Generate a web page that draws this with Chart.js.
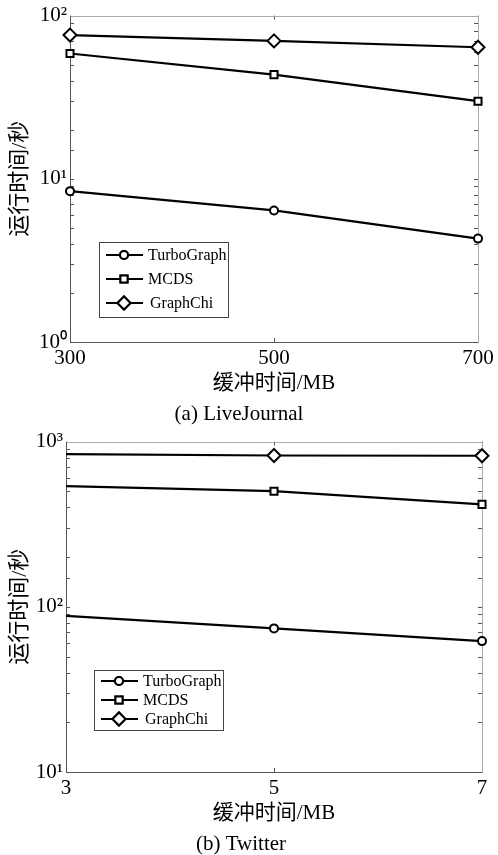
<!DOCTYPE html>
<html><head><meta charset="utf-8">
<script src="https://cdn.jsdelivr.net/npm/chart.js@4/dist/chart.umd.min.js"></script>
<style>
html,body{margin:0;padding:0;background:#fff;width:498px;height:855px;overflow:hidden;}
.wrap{position:absolute;left:0;width:498px;}
</style></head><body>
<div class="wrap" style="top:0;height:425px"><canvas id="c1" width="498" height="425"></canvas></div>
<div class="wrap" style="top:426px;height:429px"><canvas id="c2" width="498" height="429"></canvas></div>
<script>
// ---- data ----
const seriesNames = ['TurboGraph', 'MCDS', 'GraphChi'];
const lj_x = [300, 500, 700];
const lj_turbo = [8.4, 6.4, 4.3];
const lj_mcds = [58.6, 43.5, 29.9];
const lj_graphchi = [76, 70, 64];
const tw_x = [3, 5, 7];
const tw_turbo = [88, 74, 62];
const tw_mcds = [537, 501, 417];
const tw_graphchi = [839, 824, 821];
const lj_xTicks = [300, 500, 700];
const tw_xTicks = [3, 5, 7];
const lj_yTickValues = [1, 10, 100];
const lj_yTickLabels = ['10\u2070', '10\u00B9', '10\u00B2'];
const tw_yTickValues = [10, 100, 1000];
const tw_yTickLabels = ['10\u00B9', '10\u00B2', '10\u00B3'];
const xTitle = '缓冲时间/MB';
const yTitle = '运行时间/秒';
const lj_caption = '(a) LiveJournal';
const tw_caption = '(b) Twitter';

const FONT = '"Liberation Serif", "Times New Roman", "Noto Sans CJK SC", serif';
const styles = [
  {pointStyle: 'circle', radius: 4},
  {pointStyle: 'rect', radius: 5},
  {pointStyle: 'rectRot', radius: 6.5}
];

function makeDatasets(xs, ys, hideFirst) {
  return ys.map((vals, i) => ({
    label: seriesNames[i],
    data: xs.map((x, j) => ({x: x, y: vals[j]})),
    borderColor: '#000',
    borderWidth: 2.2,
    pointStyle: styles[i].pointStyle,
    pointRadius: xs.map((x, j) => (hideFirst && j === 0) ? 0 : styles[i].radius),
    pointBorderWidth: 2,
    pointBorderColor: '#000',
    pointBackgroundColor: '#fff',
    legendRadius: styles[i].radius,
    fill: false,
    clip: false,
    tension: 0
  }));
}

const frameTicks = {
  id: 'frameTicks',
  beforeDatasetsDraw(chart) {
    const {ctx, chartArea: a, scales} = chart;
    ctx.save();
    ctx.lineWidth = 1;
    ctx.strokeStyle = '#555';
    const y = scales.y, x = scales.x;
    y.ticks.forEach(t => {
      const p = Math.round(y.getPixelForValue(t.value)) + 0.5;
      ctx.beginPath();
      ctx.moveTo(a.left, p); ctx.lineTo(a.left + 4, p);
      ctx.moveTo(a.right, p); ctx.lineTo(a.right - 4, p);
      ctx.stroke();
    });
    x.ticks.forEach(t => {
      const p = Math.round(x.getPixelForValue(t.value)) + 0.5;
      ctx.beginPath();
      ctx.moveTo(p, a.bottom); ctx.lineTo(p, a.bottom - 4);
      ctx.moveTo(p, a.top); ctx.lineTo(p, a.top + 4);
      ctx.stroke();
    });
    const L = Math.round(a.left) + 0.5, R = Math.round(a.right) + 0.5;
    const T = Math.round(a.top) + 0.5, B = Math.round(a.bottom) + 0.5;
    ctx.strokeStyle = '#aaa';
    ctx.beginPath(); ctx.moveTo(L, T); ctx.lineTo(R, T); ctx.lineTo(R, B); ctx.stroke();
    ctx.strokeStyle = '#555';
    ctx.beginPath(); ctx.moveTo(L, T); ctx.lineTo(L, B); ctx.lineTo(R, B); ctx.stroke();
    ctx.restore();
  }
};

const boxLegend = {
  id: 'boxLegend',
  afterDraw(chart, args, opts) {
    const {ctx, chartArea: a} = chart;
    const left = a.left + opts.dx, bottom = a.bottom - opts.dy;
    const top = bottom - opts.h;
    ctx.save();
    ctx.fillStyle = '#fff';
    ctx.fillRect(left, top, opts.w, opts.h);
    ctx.strokeStyle = '#444';
    ctx.lineWidth = 1;
    ctx.strokeRect(Math.round(left) + 0.5, Math.round(top) + 0.5, opts.w, opts.h);
    ctx.font = '16px ' + FONT;
    ctx.textBaseline = 'middle';
    ctx.fillStyle = '#000';
    chart.data.datasets.forEach((ds, i) => {
      const yy = top + opts.first + i * opts.step;
      ctx.strokeStyle = '#000';
      ctx.lineWidth = 2.2;
      ctx.beginPath();
      ctx.moveTo(left + 7, yy); ctx.lineTo(left + 44, yy);
      ctx.stroke();
      ctx.lineWidth = 2;
      ctx.fillStyle = '#fff';
      Chart.helpers.drawPoint(ctx, {pointStyle: ds.pointStyle, radius: ds.legendRadius, borderWidth: 2, rotation: 0}, left + 25, yy);
      ctx.fill();
      ctx.stroke();
      ctx.fillStyle = '#000';
      ctx.fillText(ds.label, left + 49 + (i === 2 ? 2 : 0), yy + 1);
    });
    ctx.restore();
  }
};

function makeChart(id, xs, ys, xTicks, yVals, yLabels, yMin, yMax, caption, yWidth, padRight, legendOpts, hideFirst) {
  return new Chart(document.getElementById(id), {
    type: 'line',
    data: {datasets: makeDatasets(xs, ys, hideFirst)},
    plugins: [frameTicks, boxLegend],
    options: {
      responsive: false,
      animation: false,
      layout: {padding: {top: 14, right: padRight, left: 0, bottom: 0}},
      scales: {
        x: {
          type: 'linear',
          min: xTicks[0], max: xTicks[xTicks.length - 1],
          afterBuildTicks: s => { s.ticks = xTicks.map(v => ({value: v})); },
          afterFit: s => { s.height = 62; },
          grid: {display: false, drawTicks: false},
          border: {display: false},
          ticks: {color: '#000', font: {family: FONT, size: 21}, padding: 4, maxRotation: 0, autoSkip: false,
                  callback: v => String(v)},
          title: {display: true, text: xTitle, color: '#000', font: {family: FONT, size: 21}, padding: {top: 0, bottom: 8}}
        },
        y: {
          type: 'logarithmic',
          min: yMin, max: yMax,
          afterFit: s => { s.width = yWidth; },
          grid: {display: false, drawTicks: false},
          border: {display: false},
          ticks: {color: '#000', font: {family: FONT, size: 21}, padding: 3, autoSkip: false,
                  callback: v => { const k = yVals.indexOf(v); return k >= 0 ? yLabels[k] : ''; }},
          title: {display: true, text: yTitle, color: '#000', font: {family: FONT, size: 22}, padding: {top: 7, bottom: 0}}
        }
      },
      plugins: {
        legend: {display: false},
        tooltip: {enabled: false},
        title: {display: true, position: 'bottom', text: caption, color: '#000',
                font: {family: FONT, size: 21, weight: 'normal', lineHeight: 1}, padding: 0},
        boxLegend: legendOpts
      }
    }
  });
}

makeChart('c1', lj_x, [lj_turbo, lj_mcds, lj_graphchi], lj_xTicks, lj_yTickValues, lj_yTickLabels, 1, 100,
  lj_caption, 70, 20, {dx: 29, dy: 25, w: 129, h: 75, first: 13, step: 24}, false);
makeChart('c2', tw_x, [tw_turbo, tw_mcds, tw_graphchi], tw_xTicks, tw_yTickValues, tw_yTickLabels, 10, 1000,
  tw_caption, 66, 16, {dx: 28, dy: 42, w: 129, h: 60, first: 11, step: 19}, true);
</script>
</body></html>
